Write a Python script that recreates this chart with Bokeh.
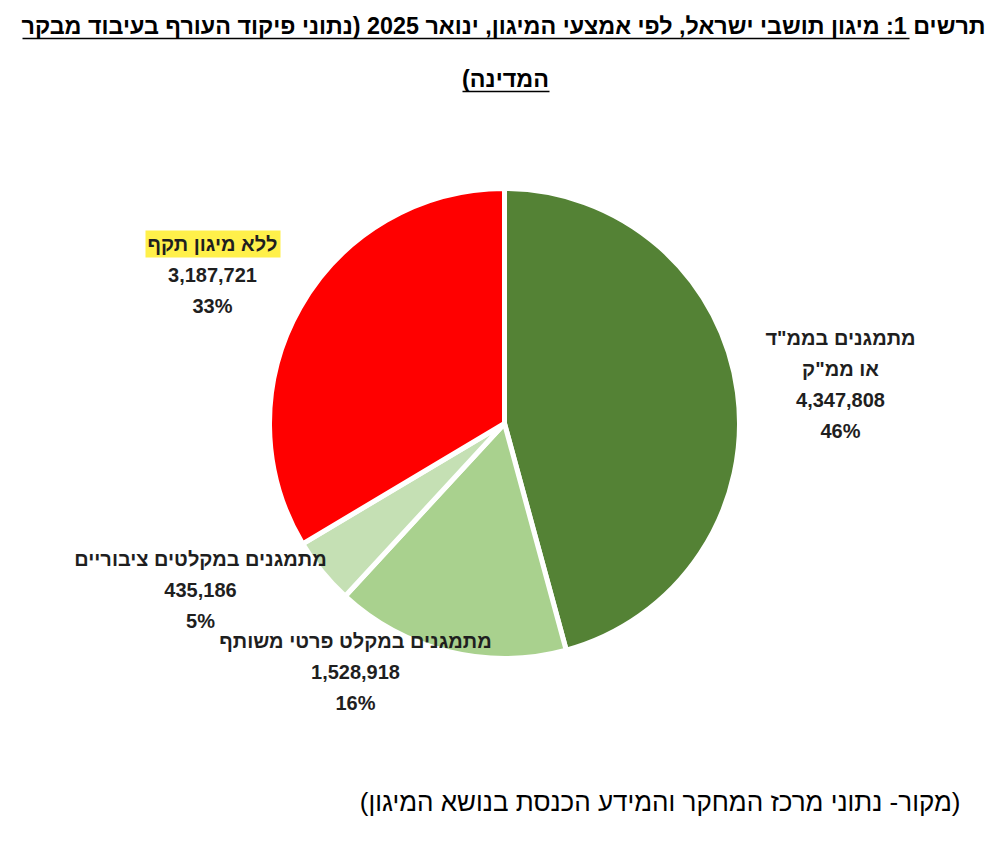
import numpy as np
from bokeh.core.properties import value
from bokeh.embed import file_html
from bokeh.models import ColumnDataSource, Range1d
from bokeh.plotting import figure
from bokeh.resources import INLINE

RLM = "\u200f"

# data
categories = ['מתמגנים בממ"ד\nאו ממ"ק', "מתמגנים במקלט פרטי משותף",
              "מתמגנים במקלטים ציבוריים", "ללא מיגון תקף"]
counts = [4347808, 1528918, 435186, 3187721]
percents = ["46%", "16%", "5%", "33%"]
colors = ["#548235", "#A9D18E", "#C5E0B4", "#FF0000"]

title_lines = ["תרשים 1: מיגון תושבי ישראל, לפי אמצעי המיגון, ינואר 2025 (נתוני פיקוד העורף בעיבוד מבקר",
               "המדינה)" + RLM]
source_note = RLM + "(מקור- נתוני מרכז המחקר והמידע הכנסת בנושא המיגון)" + RLM

W, H = 992, 828
CX, CY = 504, 423   # pie centre on the page
R = 235
FONT = "Liberation Sans"
INK = "#1f1f1f"


def px(x):
    return x - CX


def py(y):
    return CY - y


p = figure(width=W, height=H, output_backend="svg", toolbar_location=None,
           x_range=Range1d(-CX, W - CX), y_range=Range1d(CY - H, CY), min_border=0)
p.axis.visible = False
p.grid.visible = False
p.outline_line_color = None

# pie, clockwise from 12 o'clock
frac = np.array(counts) / sum(counts)
cum = np.concatenate([[0], np.cumsum(frac)])
src = ColumnDataSource(dict(start=np.pi / 2 - 2 * np.pi * cum[:-1],
                            end=np.pi / 2 - 2 * np.pi * cum[1:],
                            color=colors))
p.wedge(x=0, y=0, radius=R, start_angle="start", end_angle="end", direction="clock",
        fill_color="color", line_color="white", line_width=5, source=src)

# slice labels (page positions of each label block centre, first line)
label_pos = [(840, 337), (355, 640), (200, 558), (212, 243)]
line_gap = 31

# yellow highlight behind the "no protection" label
hx, hy = label_pos[3]
p.quad(left=px(hx - 67), right=px(hx + 68), top=py(hy - 13), bottom=py(hy + 14),
       fill_color="#FFF04A", line_color=None)

tx, ty, tt = [], [], []
for (lx, ly), cat, n, pc in zip(label_pos, categories, counts, percents):
    lines = cat.split("\n") + [f"{n:,}", pc]
    for i, s in enumerate(lines):
        tx.append(px(lx))
        ty.append(py(ly + i * line_gap))
        tt.append(s)
p.text(x=tx, y=ty, text=tt, text_align="center", text_baseline="middle",
       text_font=value(FONT), text_font_style="bold", text_font_size="20px",
       text_color=INK)

# title, underlined like the original document
p.text(x=[px(503), px(505)], y=[py(25), py(78)], text=title_lines,
       text_align="center", text_baseline="middle", text_font=value(FONT),
       text_font_style="bold", text_font_size="23.3px", text_color="black")
p.segment(x0=[px(22), px(462)], x1=[px(909), px(549)], y0=[py(38), py(91)],
          y1=[py(38), py(91)], line_color="black", line_width=1.5)

# source
p.text(x=[px(960)], y=[py(801)], text=[source_note], text_align="right",
       text_baseline="middle", text_font=value(FONT), text_font_size="26px",
       text_color="black")

open("out.html", "w").write(file_html(p, INLINE))
